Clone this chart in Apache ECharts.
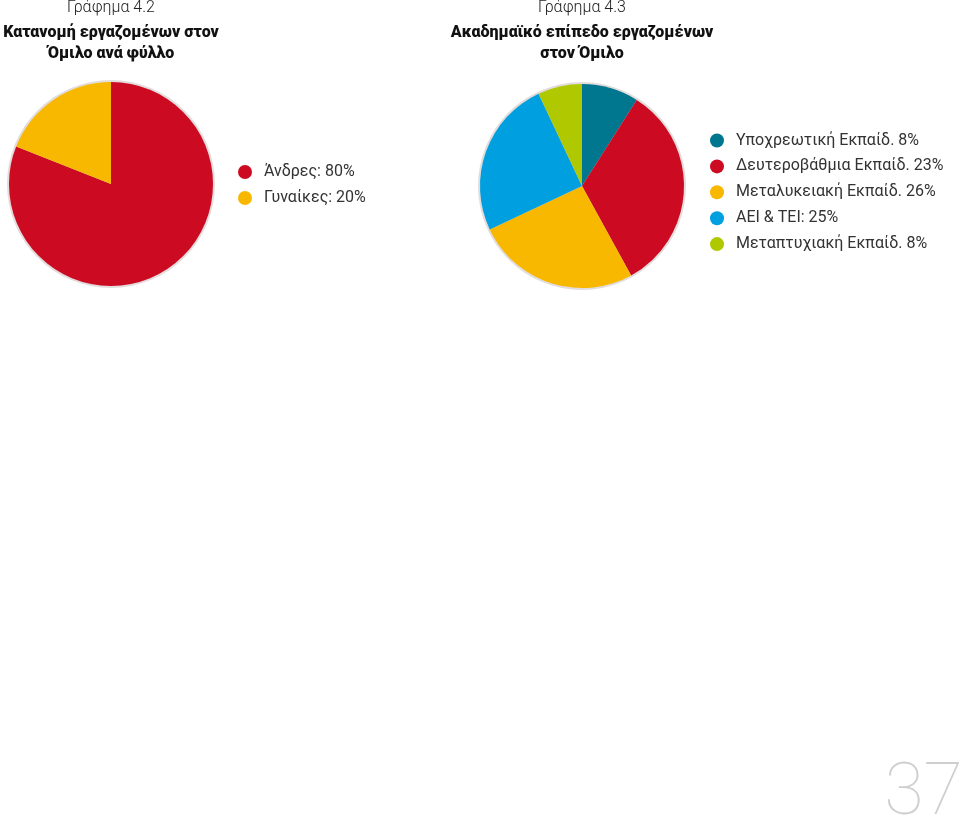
<!DOCTYPE html>
<html>
<head>
<meta charset="utf-8">
<script src="https://cdn.jsdelivr.net/npm/echarts@6/dist/echarts.min.js"></script>
<style>
html,body{margin:0;padding:0;background:#fff;}
#chart{width:960px;height:815px;}
</style>
</head>
<body>
<div id="chart"></div>
<script>
// Chart 4.2 – gender
var genderCategories = ['Άνδρες', 'Γυναίκες'];
var genderValues = [81, 19];
var genderLabels = ['Άνδρες: 80%', 'Γυναίκες: 20%'];
var genderColors = ['#cc0a22', '#f8b800'];

// Chart 4.3 – education
var eduCategories = ['Υποχρεωτική', 'Δευτεροβάθμια', 'Μεταλυκειακή', 'ΑΕΙ & ΤΕΙ', 'Μεταπτυχιακή'];
var eduValues = [9, 33, 26, 25, 7];
var eduLabels = ['Υποχρεωτική Εκπαίδ. 8%', 'Δευτεροβάθμια Εκπαίδ. 23%', 'Μεταλυκειακή Εκπαίδ. 26%', 'ΑΕΙ & ΤΕΙ: 25%', 'Μεταπτυχιακή Εκπαίδ. 8%'];
var eduColors = ['#00778f', '#cc0a22', '#f8b800', '#009fe0', '#b0c800'];

var titles1 = ['Γράφημα 4.2', 'Κατανομή εργαζομένων στον', 'Όμιλο ανά φύλλο'];
var titles2 = ['Γράφημα 4.3', 'Ακαδημαϊκό επίπεδο εργαζομένων', 'στον Όμιλο'];
var pageNumber = '37';

var FONT = 'Roboto, "Noto Sans", sans-serif';

function mapLabel(cats, labels) {
  return function (name) { return labels[cats.indexOf(name)]; };
}
function titleGraphics(lines, cx) {
  return [
    {type: 'text', x: cx, y: 8, style: {text: lines[0], textAlign: 'center', textVerticalAlign: 'middle', font: '300 16px ' + FONT, fill: '#222'}},
    {type: 'text', x: cx, y: 33, style: {text: lines[1], textAlign: 'center', textVerticalAlign: 'middle', font: '900 16px ' + FONT, fill: '#111'}},
    {type: 'text', x: cx, y: 54, style: {text: lines[2], textAlign: 'center', textVerticalAlign: 'middle', font: '900 16px ' + FONT, fill: '#111'}}
  ];
}

var chart = echarts.init(document.getElementById('chart'), null, {renderer: 'canvas'});

var legendText = {fontFamily: FONT, fontSize: 16, color: '#333', padding: [0, 0, 0, 7]};

var option = {
  backgroundColor: '#fff',
  animation: false,
  legend: [
    {
      data: genderCategories,
      orient: 'vertical', left: 238, top: 164, padding: 0,
      icon: 'circle', itemWidth: 14, itemHeight: 14, itemGap: 10,
      formatter: mapLabel(genderCategories, genderLabels),
      textStyle: legendText,
      selectedMode: false
    },
    {
      data: eduCategories,
      orient: 'vertical', left: 710, top: 132.5, padding: 0,
      icon: 'circle', itemWidth: 14, itemHeight: 14, itemGap: 9.9,
      formatter: mapLabel(eduCategories, eduLabels),
      textStyle: legendText,
      selectedMode: false
    }
  ],
  graphic: titleGraphics(titles1, 111).concat(titleGraphics(titles2, 582)).concat([
    {type: 'text', x: 963, y: 796, style: {text: pageNumber, textAlign: 'right', textVerticalAlign: 'middle', font: '100 72px ' + FONT, fill: '#cfcfcf'}}
  ]),
  series: [
    {
      type: 'pie', silent: true, center: [111, 184], radius: [0, 104], z: 1,
      label: {show: false}, labelLine: {show: false},
      data: [{value: 1, name: '_bg1', itemStyle: {color: '#e2dcdc'}}],
      legendHoverLink: false
    },
    {
      type: 'pie', center: [111, 184], radius: [0, 102], startAngle: 90, clockwise: true, z: 2,
      label: {show: false}, labelLine: {show: false},
      data: genderCategories.map(function (c, i) { return {name: c, value: genderValues[i], itemStyle: {color: genderColors[i]}}; })
    },
    {
      type: 'pie', silent: true, center: [582, 186], radius: [0, 104], z: 1,
      label: {show: false}, labelLine: {show: false},
      data: [{value: 1, name: '_bg2', itemStyle: {color: '#e2dcdc'}}]
    },
    {
      type: 'pie', center: [582, 186], radius: [0, 102], startAngle: 90, clockwise: true, z: 2,
      label: {show: false}, labelLine: {show: false},
      data: eduCategories.map(function (c, i) { return {name: c, value: eduValues[i], itemStyle: {color: eduColors[i]}}; })
    }
  ]
};
chart.setOption(option);
</script>
</body>
</html>
